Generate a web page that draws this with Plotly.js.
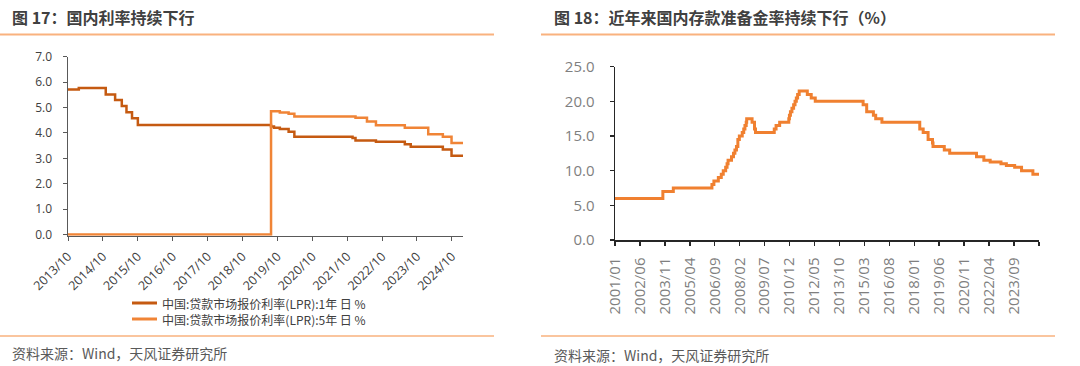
<!DOCTYPE html>
<html>
<head>
<meta charset="utf-8">
<script src="https://cdn.plot.ly/plotly-3.0.1.min.js"></script>
<style>
  html, body { margin: 0; padding: 0; background: #ffffff; }
  #chart { width: 1080px; height: 366px; }
</style>
</head>
<body>
<div id="chart"></div>
<script>
// ---------- Data: 图17 LPR ----------
const lpr1yName = '中国:贷款市场报价利率(LPR):1年 日 %';
const lpr5yName = '中国:贷款市场报价利率(LPR):5年 日 %';
const lpr1yDates = ['2013-10-25','2014-02-15','2014-11-24','2015-03-02','2015-05-11','2015-06-29','2015-08-26','2015-10-26',
  '2019-08-20','2019-09-20','2019-11-20','2020-02-20','2020-04-20','2021-12-20','2022-01-20','2022-08-22',
  '2023-06-20','2023-08-21','2024-07-22','2024-10-21','2025-02-18'];
const lpr1yValues = [5.71,5.77,5.51,5.30,5.06,4.81,4.58,4.31,
  4.25,4.20,4.15,4.05,3.85,3.80,3.70,3.65,
  3.55,3.45,3.35,3.10,3.10];
const lpr5yDates = ['2013-10-25','2019-08-20','2019-11-20','2020-02-20','2020-04-20','2022-01-20','2022-05-20','2022-08-22',
  '2023-06-20','2024-02-20','2024-07-22','2024-10-21','2025-02-18'];
const lpr5yValues = [0,4.85,4.80,4.75,4.65,4.60,4.45,4.30,4.20,3.95,3.85,3.60,3.60];
const leftYTicks = [0,1,2,3,4,5,6,7];

// ---------- Data: 图18 存款准备金率 ----------
const rrrName = '存款准备金率';
const rrrDates = ['2001-01-01','2003-09-21','2004-04-25','2006-07-05','2006-08-15','2006-11-15','2007-01-15','2007-02-25',
  '2007-04-16','2007-05-15','2007-06-05','2007-08-15','2007-09-25','2007-10-25','2007-11-26','2007-12-25',
  '2008-01-25','2008-03-25','2008-04-25','2008-05-20','2008-06-15','2008-06-25','2008-10-15','2008-12-05',
  '2008-12-25','2010-01-18','2010-02-25','2010-05-10','2010-11-16','2010-11-29','2010-12-20','2011-01-20',
  '2011-02-24','2011-03-25','2011-04-21','2011-05-18','2011-06-20','2011-12-05','2012-02-24','2012-05-18',
  '2015-02-05','2015-04-20','2015-09-06','2015-10-24','2016-03-01','2018-04-25','2018-07-05','2018-10-15',
  '2019-01-15','2019-01-25','2019-09-16','2020-01-06','2021-07-15','2021-12-15','2022-04-25','2022-12-05',
  '2023-03-27','2023-09-15','2024-02-05','2024-09-27','2025-02-01'];
const rrrValues = [6.0,7.0,7.5,8.0,8.5,9.0,9.5,10.0,
  10.5,11.0,11.5,12.0,12.5,13.0,13.5,14.5,
  15.0,15.5,16.0,16.5,17.0,17.5,17.0,16.0,
  15.5,16.0,16.5,17.0,17.5,18.0,18.5,19.0,
  19.5,20.0,20.5,21.0,21.5,21.0,20.5,20.0,
  19.5,18.5,18.0,17.5,17.0,16.0,15.5,14.5,
  14.0,13.5,13.0,12.5,12.0,11.5,11.25,11.0,
  10.75,10.5,10.0,9.5,9.5];
const rightXTickLabels = ['2001/01','2002/06','2003/11','2005/04','2006/09','2008/02','2009/07','2010/12','2012/05',
  '2013/10','2015/03','2016/08','2018/01','2019/06','2020/11','2022/04','2023/09'];
const rightYTicks = [0,5,10,15,20,25];

// ---------- Texts ----------
const leftTitle = '图 17：国内利率持续下行';
const rightTitle = '图 18：近年来国内存款准备金率持续下行（%）';
const sourceText = '资料来源：Wind，天风证券研究所';

// ---------- Styling ----------
const W = 1080, H = 366;
const px = v => v / W;
const py = v => 1 - v / H;
const color1y = '#C55A11';
const color5y = '#F08436';
const colorRRR = '#F08030';
const sepColor = '#F9B27E';
const cjk = '"Noto Sans CJK SC", "Open Sans", sans-serif';
const num = '"Open Sans", "Noto Sans CJK SC", sans-serif';

const rightTickVals = rightXTickLabels.map(s => s.replace('/', '-') + '-01').concat(['2025-02-01']);
const rightTickText = rightXTickLabels.concat(['']);

const traces = [
  { x: lpr1yDates, y: lpr1yValues, name: lpr1yName, type: 'scatter', mode: 'lines',
    line: { color: color1y, width: 2.5, shape: 'hv' }, xaxis: 'x', yaxis: 'y' },
  { x: lpr5yDates, y: lpr5yValues, name: lpr5yName, type: 'scatter', mode: 'lines',
    line: { color: color5y, width: 2.5, shape: 'hv' }, xaxis: 'x', yaxis: 'y' },
  { x: rrrDates, y: rrrValues, name: rrrName, type: 'scatter', mode: 'lines',
    line: { color: colorRRR, width: 3, shape: 'hv' }, xaxis: 'x2', yaxis: 'y2' }
];

const legendRows = [
  { name: lpr1yName, color: color1y, y: 303 },
  { name: lpr5yName, color: color5y, y: 319 }
];

const shapes = [
  { type: 'line', xref: 'paper', yref: 'paper', x0: 0, x1: px(494), y0: py(34.5), y1: py(34.5), line: { color: sepColor, width: 2 } },
  { type: 'line', xref: 'paper', yref: 'paper', x0: px(541), x1: px(1055), y0: py(34.5), y1: py(34.5), line: { color: sepColor, width: 2 } },
  { type: 'line', xref: 'paper', yref: 'paper', x0: 0, x1: px(494), y0: py(336), y1: py(336), line: { color: sepColor, width: 1.5 } },
  { type: 'line', xref: 'paper', yref: 'paper', x0: px(541), x1: px(1055), y0: py(336), y1: py(336), line: { color: sepColor, width: 1.5 } }
];
legendRows.forEach(r => shapes.push({ type: 'line', xref: 'paper', yref: 'paper',
  x0: px(132), x1: px(157), y0: py(r.y), y1: py(r.y), line: { color: r.color, width: 3 } }));

const annotations = [
  { text: '<b>' + leftTitle + '</b>', xref: 'paper', yref: 'paper', x: px(10), y: py(17), xanchor: 'left', yanchor: 'middle',
    showarrow: false, font: { family: cjk, size: 16, color: '#404040' } },
  { text: '<b>' + rightTitle + '</b>', xref: 'paper', yref: 'paper', x: px(552), y: py(17), xanchor: 'left', yanchor: 'middle',
    showarrow: false, font: { family: cjk, size: 16, color: '#404040' } },
  { text: sourceText, xref: 'paper', yref: 'paper', x: px(10), y: py(353), xanchor: 'left', yanchor: 'middle',
    showarrow: false, font: { family: cjk, size: 14, color: '#595959' } },
  { text: sourceText, xref: 'paper', yref: 'paper', x: px(552), y: py(355), xanchor: 'left', yanchor: 'middle',
    showarrow: false, font: { family: cjk, size: 14, color: '#595959' } }
];
legendRows.forEach(r => annotations.push({ text: r.name, xref: 'paper', yref: 'paper', x: px(160), y: py(r.y),
  xanchor: 'left', yanchor: 'middle', showarrow: false, font: { family: cjk, size: 12, color: '#404040' } }));

// Left plot: 0 at y=234.5, 7 at y=56.7; extend range slightly below 0
const lyMin = -0.05, lyMax = 7;
const lPxPerUnit = (234.5 - 56.7) / 7;
const lBottom = 234.5 + (-lyMin) * lPxPerUnit;

const layout = {
  width: W, height: H,
  margin: { l: 0, r: 0, t: 0, b: 0, pad: 0 },
  paper_bgcolor: '#ffffff', plot_bgcolor: 'rgba(0,0,0,0)',
  showlegend: false,
  font: { family: num, color: '#404040' },
  xaxis: {
    domain: [px(68), px(463)], type: 'date', range: ['2013-10-25', '2025-02-18'],
    tick0: '2013-10-25', dtick: 'M12', tickformat: '%Y/%m', tickangle: -45,
    showgrid: false, zeroline: false, showline: true, linecolor: '#595959', linewidth: 1.5,
    ticks: 'outside', ticklen: 4, tickcolor: '#595959', tickwidth: 1,
    tickfont: { family: num, size: 12.5, color: '#404040' }, ticklabelstandoff: 3,
    anchor: 'y', layer: 'below traces'
  },
  yaxis: {
    domain: [py(lBottom), py(56.7)], range: [lyMin, lyMax],
    tickvals: leftYTicks, tickformat: '.1f',
    showgrid: false, zeroline: false, showline: true, linecolor: '#595959', linewidth: 1.5,
    ticks: 'outside', ticklen: 4, tickcolor: '#595959', tickwidth: 1,
    tickfont: { family: num, size: 12, color: '#404040' }, ticklabelstandoff: 8,
    anchor: 'x', layer: 'below traces'
  },
  xaxis2: {
    domain: [px(615), px(1039)], type: 'date', range: ['2001-01-01', '2025-02-01'],
    tickmode: 'array', tickvals: rightTickVals, ticktext: rightTickText, tickangle: -90,
    showgrid: false, zeroline: false, showline: true, linecolor: '#262626', linewidth: 1.5,
    ticks: 'outside', ticklen: 4, tickcolor: '#262626', tickwidth: 1.5,
    tickfont: { family: num, size: 15, color: '#7F7F7F' }, ticklabelstandoff: 6,
    anchor: 'y2', layer: 'below traces'
  },
  yaxis2: {
    domain: [py(240), py(66.7)], range: [0, 25],
    tickvals: rightYTicks, tickformat: '.1f',
    showgrid: false, zeroline: false, showline: true, linecolor: '#262626', linewidth: 1.5,
    ticks: 'outside', ticklen: 4, tickcolor: '#262626', tickwidth: 1.5,
    tickfont: { family: num, size: 15, color: '#7F7F7F' }, ticklabelstandoff: 12,
    anchor: 'x2', layer: 'below traces'
  },
  shapes: shapes,
  annotations: annotations
};

Plotly.newPlot('chart', traces, layout, { staticPlot: true, displayModeBar: false });
</script>
</body>
</html>
